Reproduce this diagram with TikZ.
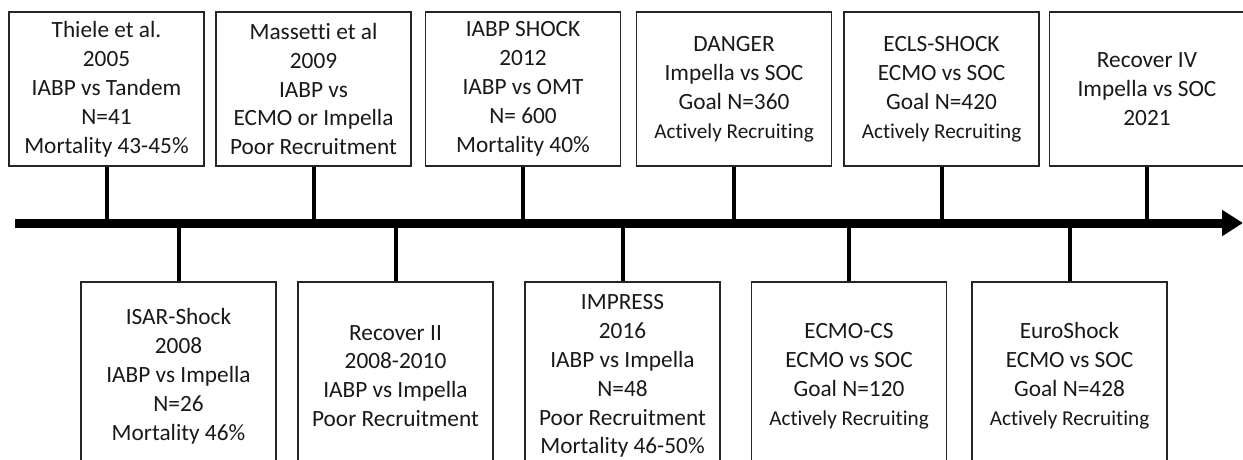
\documentclass[tikz,border=0pt]{standalone}
\usepackage{fontspec}
\setmainfont[Ligatures={NoCommon}]{Carlito}
\usetikzlibrary{arrows.meta}
\begin{document}
\begin{tikzpicture}[x=1pt,y=-1pt,
  box/.style={draw=black!85,line width=1.2pt,fill=white,align=center,
    minimum width=195pt,inner sep=2pt,text=black!90,
    font=\fontsize{23.3}{28.9}\selectfont},
  topbox/.style={box,minimum height=154pt},
  botbox/.style={box,minimum height=188pt},
  stem/.style={line width=4pt,black},
  axisline/.style={line width=9pt,black,-{Triangle[length=21pt,width=25pt]}}]
\newcommand{\ar}{{\fontsize{21.2}{25}\selectfont Actively Recruiting}}
\clip (0,0) rectangle (1243,460);
\useasboundingbox (0,0) rectangle (1243,460);
\coordinate (axL) at (15,223);
\coordinate (axR) at (1243,223);
% top boxes
\node[topbox] (t1) at (106.5,89) {Thiele et al.\\2005\\IABP vs Tandem\\N=41\\Mortality 43-45\%};
\node[topbox] (t2) at (313.5,89) {Massetti et al\\2009\\IABP vs\\ECMO or Impella\\Poor Recruitment};
\node[topbox] (t3) at (523,89) {IABP SHOCK\\2012\\IABP vs OMT\\N= 600\\Mortality 40\%};
\node[topbox] (t4) at (734,89) {DANGER\\Impella vs SOC\\Goal N=360\\\ar};
\node[topbox] (t5) at (941.5,89) {ECLS-SHOCK\\ECMO vs SOC\\Goal N=420\\\ar};
\node[topbox] (t6) at (1147,89) {Recover IV\\Impella vs SOC\\2021};
% bottom boxes
\node[botbox] (b1) at (178.5,376) {ISAR-Shock\\2008\\IABP vs Impella\\N=26\\Mortality 46\%};
\node[botbox] (b2) at (395.5,376) {Recover II\\2008-2010\\IABP vs Impella\\Poor Recruitment};
\node[botbox] (b3) at (622.5,376) {IMPRESS\\2016\\IABP vs Impella\\N=48\\Poor Recruitment\\Mortality 46-50\%};
\node[botbox] (b4) at (849,376) {ECMO-CS\\ECMO vs SOC\\Goal N=120\\\ar};
\node[botbox] (b5) at (1069.5,376) {EuroShock\\ECMO vs SOC\\Goal N=428\\\ar};
% stems
\foreach \n in {t1,t2,t3,t4,t5,t6}{\draw[stem] (\n.south) -- (\n.south |- axL);}
\foreach \n in {b1,b2,b3,b4,b5}{\draw[stem] (\n.north) -- (\n.north |- axL);}
% axis
\draw[axisline] (axL) -- (axR);
\end{tikzpicture}
\end{document}
